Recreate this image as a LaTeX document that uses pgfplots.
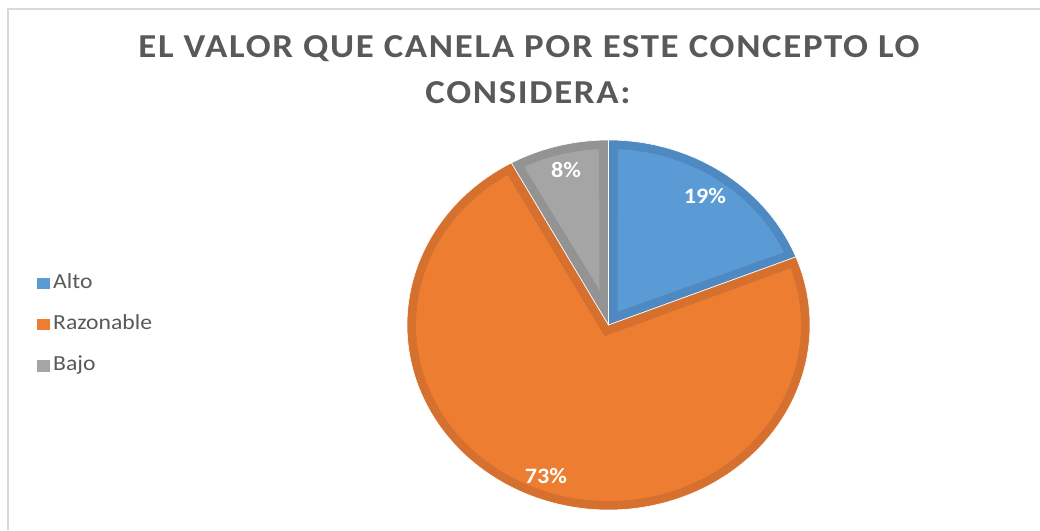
\documentclass[border=0pt]{standalone}
\usepackage{pgfplots}
\usepackage{pgfplotstable}
\usepackage{fontspec}
\pgfplotsset{compat=1.18}
\setmainfont{Carlito}[FakeStretch=1.1]
\newfontfamily\titlefont{Carlito}[FakeStretch=1.1, LetterSpace=5]

\definecolor{altofill}{HTML}{5B9BD5}
\definecolor{altoline}{HTML}{4F89C2}
\definecolor{razfill}{HTML}{ED7D31}
\definecolor{razline}{HTML}{D5702E}
\definecolor{bajofill}{HTML}{A5A5A5}
\definecolor{bajoline}{HTML}{939393}
\definecolor{txtgray}{HTML}{595959}
\definecolor{framegray}{HTML}{D9D9D9}

% share of each answer, in percent
\pgfplotstableread{
label      value
Alto       19
Razonable  73
Bajo       8
}\piedata

\begin{document}
\begin{tikzpicture}
\pgfplotstablegetelem{0}{value}\of\piedata \let\vA\pgfplotsretval
\pgfplotstablegetelem{1}{value}\of\piedata \let\vB\pgfplotsretval
\pgfplotstablegetelem{2}{value}\of\piedata \let\vC\pgfplotsretval
% slice boundaries, clockwise from the top
\pgfmathsetmacro{\aA}{90}
\pgfmathsetmacro{\aB}{\aA-3.6*\vA}
\pgfmathsetmacro{\aC}{\aB-3.6*\vB}
\pgfmathsetmacro{\aD}{\aC-3.6*\vC}
% centre, radii, border band and its angular trim
\def\cx{608.5}\def\cy{205}\def\rx{201.5}\def\ry{185}\def\bw{9}\def\tr{2.8}
\pgfmathsetmacro{\irx}{\rx-\bw}\pgfmathsetmacro{\iry}{\ry-\bw}
% inner vertex of each slice, moved inward along its bisector
\pgfmathsetmacro{\dA}{\bw/sin(1.8*\vA)}\pgfmathsetmacro{\mA}{(\aA+\aB)/2}
\pgfmathsetmacro{\dB}{\bw/sin(1.8*\vB)}\pgfmathsetmacro{\mB}{(\aB+\aC)/2}
\pgfmathsetmacro{\dC}{\bw/sin(1.8*\vC)}\pgfmathsetmacro{\mC}{(\aC+\aD)/2}
\pgfmathsetmacro{\Ax}{\cx+\dA*cos(\mA)}\pgfmathsetmacro{\Ay}{\cy+\dA*sin(\mA)}
\pgfmathsetmacro{\Bx}{\cx+\dB*cos(\mB)}\pgfmathsetmacro{\By}{\cy+\dB*sin(\mB)}
\pgfmathsetmacro{\Cx}{\cx+\dC*cos(\mC)}\pgfmathsetmacro{\Cy}{\cy+\dC*sin(\mC)}
\begin{axis}[
    width=1040pt, height=530pt, scale only axis,
    xmin=0, xmax=1040, ymin=0, ymax=530,
    hide axis, clip=false,
    legend image code/.code={\fill[#1, draw=none] (0pt,-5.5pt) rectangle (13pt,5.5pt);},
    legend style={at={(axis cs:34,205)}, anchor=west, draw=none, fill=none,
        font=\fontsize{21.5}{21.5}\selectfont, text=txtgray, row sep=22pt,
        nodes={text height=14pt, text depth=5pt, inner xsep=3pt, inner ysep=0pt}},
    legend cell align=left,
    slice/.style={draw=white, line width=0.6pt, line join=round},
]
\draw[framegray, line width=2pt] (axis cs:8,0) -- (axis cs:8,521) -- (axis cs:1040,521);

% outer (border) sectors
\addplot[slice, fill=altoline, forget plot, domain=\aB:\aA, samples=90, variable=\t]
    ({\cx+\rx*cos(\t)}, {\cy+\ry*sin(\t)}) -- (axis cs:\cx,\cy) -- cycle;
\addplot[slice, fill=razline, forget plot, domain=\aC:\aB, samples=240, variable=\t]
    ({\cx+\rx*cos(\t)}, {\cy+\ry*sin(\t)}) -- (axis cs:\cx,\cy) -- cycle;
\addplot[slice, fill=bajoline, forget plot, domain=\aD:\aC, samples=40, variable=\t]
    ({\cx+\rx*cos(\t)}, {\cy+\ry*sin(\t)}) -- (axis cs:\cx,\cy) -- cycle;

% inner sectors
\addplot[fill=altofill, draw=none, domain=\aB+\tr:\aA-\tr, samples=90, variable=\t]
    ({\cx+\irx*cos(\t)}, {\cy+\iry*sin(\t)}) -- (axis cs:\Ax,\Ay) -- cycle;
\addlegendentry{Alto}
\addplot[fill=razfill, draw=none, domain=\aC+\tr:\aB-\tr, samples=240, variable=\t]
    ({\cx+\irx*cos(\t)}, {\cy+\iry*sin(\t)}) -- (axis cs:\Bx,\By) -- cycle;
\addlegendentry{Razonable}
\addplot[fill=bajofill, draw=none, domain=\aD+\tr:\aC-\tr, samples=40, variable=\t]
    ({\cx+\irx*cos(\t)}, {\cy+\iry*sin(\t)}) -- (axis cs:\Cx,\Cy) -- cycle;
\addlegendentry{Bajo}

\node[white, font=\fontsize{22}{22}\selectfont\bfseries] at (axis cs:705,334) {\vA\%};
\node[white, font=\fontsize{22}{22}\selectfont\bfseries] at (axis cs:546,54) {\vB\%};
\node[white, font=\fontsize{22}{22}\selectfont\bfseries] at (axis cs:566,360) {\vC\%};

\node[txtgray, font=\titlefont\fontsize{33.5}{33.5}\selectfont\bfseries] at (axis cs:529,481) {EL VALOR QUE CANELA POR ESTE CONCEPTO LO};
\node[txtgray, font=\titlefont\fontsize{33.5}{33.5}\selectfont\bfseries] at (axis cs:528,437) {CONSIDERA:};
\end{axis}
\pgfresetboundingbox
\useasboundingbox (current axis.south west) rectangle (current axis.north east);
\end{tikzpicture}
\end{document}
